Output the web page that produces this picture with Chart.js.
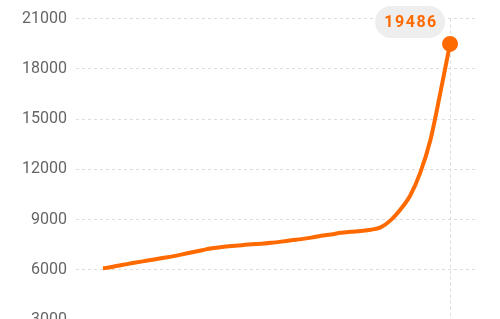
<!DOCTYPE html>
<html>
<head>
<meta charset="utf-8">
<script src="https://cdn.jsdelivr.net/npm/chart.js@4"></script>
<style>
  html, body { margin: 0; padding: 0; background: #fff; overflow: hidden; }
  #wrap { position: relative; width: 500px; height: 340px; }
</style>
</head>
<body>
<div id="wrap"><canvas id="lineChart"></canvas></div>
<script>
// periods along the x axis (labels are not shown in the picture)
const periods = [0, 1, 2, 3, 4, 5, 6, 7, 8, 9, 10, 11, 12, 13, 14, 15, 16, 17,
                 18, 19, 20, 21, 22, 23, 24, 25, 26, 27, 28, 29, 30, 31, 32, 33, 34, 35];
const values = [6080, 6180, 6300, 6400, 6500, 6600, 6700, 6800, 6920, 7050, 7170, 7280,
                7360, 7420, 7470, 7520, 7560, 7610, 7680, 7760, 7830, 7920, 8030, 8110,
                8210, 8270, 8320, 8390, 8530, 8950, 9600, 10450, 11800, 13700, 16500, 19486];
const yTicks = [3000, 6000, 9000, 12000, 15000, 18000, 21000];

const orange = '#ff6a00';
const lastIndex = periods.length - 1;

const points = periods.map((p, i) => ({ x: p, y: values[i] }));

const lastLabel = {
    id: 'lastLabel',
    afterDatasetsDraw(chart) {
        const meta = chart.getDatasetMeta(0);
        const pt = meta.data[lastIndex];
        const ctx = chart.ctx;
        const w = 70, h = 32;
        const cx = pt.x - 40, cy = 22;
        ctx.save();
        ctx.fillStyle = '#eeeeee';
        ctx.beginPath();
        ctx.roundRect(cx - w / 2, cy - h / 2, w, h, h / 2);
        ctx.fill();
        ctx.fillStyle = orange;
        ctx.font = 'bold 16px Roboto, sans-serif';
        ctx.letterSpacing = '1.5px';
        ctx.textAlign = 'center';
        ctx.textBaseline = 'middle';
        ctx.fillText(String(values[lastIndex]), cx + 1, cy + 1);
        ctx.restore();
    }
};

const ctxLine = document.getElementById('lineChart').getContext('2d');
new Chart(ctxLine, {
    type: 'line',
    data: {
        datasets: [{
            data: points,
            borderColor: orange,
            backgroundColor: orange,
            borderWidth: 4,
            cubicInterpolationMode: 'monotone',
            pointRadius: periods.map((p, i) => i === lastIndex ? 6 : 0),
            pointHoverRadius: 6,
            clip: false
        }]
    },
    options: {
        responsive: true,
        maintainAspectRatio: false,
        animation: false,
        layout: { padding: { top: 18, right: 22, bottom: 20, left: 0 } },
        plugins: {
            legend: { display: false },
            tooltip: { enabled: false }
        },
        scales: {
            x: {
                type: 'linear',
                min: -2.72,
                max: 37.82,
                ticks: { display: false },
                afterBuildTicks: function(scale) {
                    scale.ticks = [{ value: periods[lastIndex] }];
                },
                grid: {
                    color: '#dcdcdc',
                    lineWidth: 1,
                    drawTicks: false
                },
                border: { display: false, dash: [3, 3] }
            },
            y: {
                min: yTicks[0],
                max: yTicks[yTicks.length - 1],
                afterBuildTicks: function(scale) {
                    scale.ticks = yTicks.map(v => ({ value: v }));
                },
                afterFit: function(scale) { scale.width = 76; },
                ticks: {
                    padding: 9,
                    color: '#666666',
                    font: { family: 'Roboto', size: 16 },
                    callback: function(value) { return String(value); }
                },
                grid: {
                    color: '#dcdcdc',
                    lineWidth: 1,
                    drawTicks: false
                },
                border: { display: false, dash: [3, 3] }
            }
        }
    },
    plugins: [lastLabel]
});
</script>
</body>
</html>
